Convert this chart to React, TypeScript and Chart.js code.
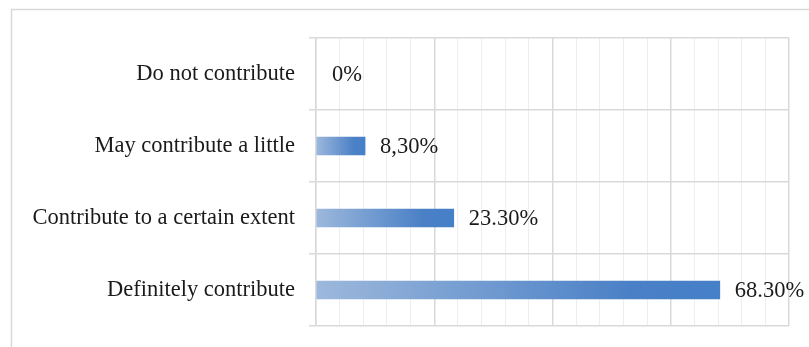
import React, { useEffect, useRef } from "react";
import { Chart, registerables } from "chart.js";

Chart.register(...registerables);

const categories = [
  "Do not contribute",
  "May contribute a little",
  "Contribute to a certain extent",
  "Definitely contribute",
];
const values = [0, 8.3, 23.3, 68.3];
const valueLabels = ["0%", "8,30%", "23.30%", "68.30%"];
const xTickValues = [0, 4, 8, 12, 16, 20, 24, 28, 32, 36, 40, 44, 48, 52, 56, 60, 64, 68, 72, 76, 80];

const FONT = "'Liberation Serif', 'Times New Roman', serif";
const TEXT = "#1a1a1a";

const framePlugin = {
  id: "frame",
  beforeDraw(chart: any) {
    const { ctx, width, height } = chart;
    ctx.save();
    ctx.fillStyle = "#ffffff";
    ctx.fillRect(0, 0, width, height);
    ctx.strokeStyle = "#d9d9d9";
    ctx.lineWidth = 1.5;
    ctx.beginPath();
    ctx.moveTo(11.5, height);
    ctx.lineTo(11.5, 9.5);
    ctx.lineTo(width, 9.5);
    ctx.stroke();
    ctx.restore();
  },
};

const labelPlugin = {
  id: "valueLabels",
  afterDatasetsDraw(chart: any) {
    const { ctx } = chart;
    const meta = chart.getDatasetMeta(0);
    ctx.save();
    ctx.font = `22.5px ${FONT}`;
    ctx.fillStyle = TEXT;
    ctx.textAlign = "left";
    ctx.textBaseline = "middle";
    meta.data.forEach((el: any, i: number) => {
      const x = el.x + (values[i] === 0 ? 16 : 15);
      ctx.fillText(valueLabels[i], x, el.y + 1);
    });
    ctx.restore();
  },
};

export default function App() {
  const ref = useRef<HTMLCanvasElement | null>(null);

  useEffect(() => {
    if (!ref.current) return;
    const chart = new Chart(ref.current, {
      type: "bar",
      data: {
        labels: categories,
        datasets: [
          {
            data: values,
            barThickness: 18,
            borderWidth: 0,
            backgroundColor: (c: any) => {
              const ch = c.chart;
              const { ctx, chartArea, scales } = ch;
              if (!chartArea || c.type !== "data" || !scales.x) return "rgba(0,0,0,0)";
              const x0 = scales.x.getPixelForValue(0);
              const x1 = scales.x.getPixelForValue(c.raw as number);
              if (x1 - x0 < 1) return "rgba(0,0,0,0)";
              const g = ctx.createLinearGradient(x0, 0, x1, 0);
              g.addColorStop(0, "#9db8dc");
              g.addColorStop(0.78, "#4a80c6");
              g.addColorStop(1, "#4680c8");
              return g;
            },
          },
        ],
      },
      options: {
        indexAxis: "y",
        responsive: false,
        animation: false,
        devicePixelRatio: 1,
        layout: { padding: { left: 0, top: 38, right: 20, bottom: 21 } },
        plugins: {
          legend: { display: false },
          tooltip: { enabled: false },
        },
        scales: {
          x: {
            type: "linear",
            min: 0,
            max: 80,
            afterBuildTicks: (s: any) => {
              s.ticks = xTickValues.map((v) => ({ value: v }));
            },
            afterFit: (s: any) => {
              s.height = 0;
              s.paddingLeft = 0;
              s.paddingRight = 0;
            },
            ticks: { display: false },
            grid: {
              drawTicks: false,
              color: (c: any) => (c.tick && c.tick.value % 20 === 0 ? "#d9d9d9" : "#eeeeee"),
              lineWidth: (c: any) => (c.tick && c.tick.value % 20 === 0 ? 1.5 : 1),
            },
            border: { display: false },
          },
          y: {
            type: "category",
            afterFit: (s: any) => {
              s.width = 316;
              s.paddingTop = 0;
              s.paddingBottom = 0;
            },
            ticks: {
              font: { family: FONT, size: 22.5 },
              color: TEXT,
              padding: 14,
            },
            grid: {
              offset: true,
              color: "#d9d9d9",
              lineWidth: 1.5,
              tickLength: 7,
              drawTicks: true,
            },
            border: { display: true, color: "#d9d9d9", width: 1.5 },
          },
        },
      },
      plugins: [framePlugin, labelPlugin],
    } as any);
    return () => chart.destroy();
  }, []);

  return (
    <div style={{ position: "absolute", left: 0, top: 0, width: 809, height: 347 }}>
      <canvas ref={ref} width={809} height={347} style={{ display: "block" }} />
    </div>
  );
}
